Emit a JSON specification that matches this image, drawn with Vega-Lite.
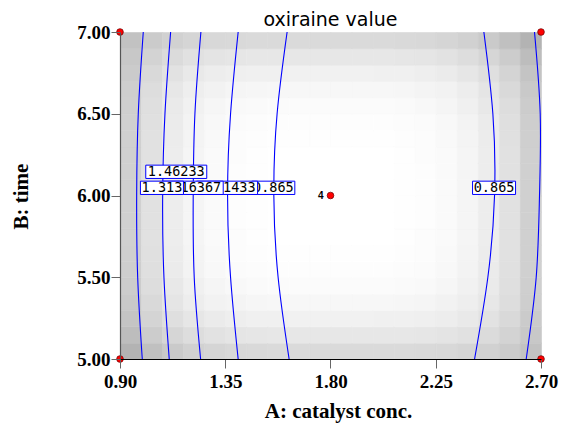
{
"$schema": "https://vega.github.io/schema/vega-lite/v6.json",
"width": 421, "height": 327,
"autosize": {"type": "none"},
"padding": {"left": 120, "top": 32, "right": 21, "bottom": 66},
"background": "white",
"title": {"text": "oxiraine value", "font": "DejaVu Sans", "fontSize": 19, "fontWeight": "normal", "color": "#000", "offset": -7},
"config": {"view": {"stroke": null}},
"datasets": {
"heat": [
{"x":0.9,"y":5,"s":76},{"x":0.9,"y":5.1,"s":66},{"x":0.9,"y":5.2,"s":59},{"x":0.9,"y":5.3,"s":54},{"x":0.9,"y":5.4,"s":51},{"x":0.9,"y":5.5,"s":49},{"x":0.9,"y":5.6,"s":48},{"x":0.9,"y":5.7,"s":47},{"x":0.9,"y":5.8,"s":47},{"x":0.9,"y":5.9,"s":47},{"x":0.9,"y":6,"s":47},{"x":0.9,"y":6.1,"s":47},{"x":0.9,"y":6.2,"s":47},{"x":0.9,"y":6.3,"s":47},{"x":0.9,"y":6.4,"s":47},{"x":0.9,"y":6.5,"s":48},{"x":0.9,"y":6.6,"s":49},{"x":0.9,"y":6.7,"s":52},{"x":0.9,"y":6.8,"s":55},{"x":0.9,"y":6.9,"s":61},
{"x":0.99,"y":5,"s":63},{"x":0.99,"y":5.1,"s":51},{"x":0.99,"y":5.2,"s":43},{"x":0.99,"y":5.3,"s":38},{"x":0.99,"y":5.4,"s":34},{"x":0.99,"y":5.5,"s":32},{"x":0.99,"y":5.6,"s":31},{"x":0.99,"y":5.7,"s":30},{"x":0.99,"y":5.8,"s":30},{"x":0.99,"y":5.9,"s":30},{"x":0.99,"y":6,"s":30},{"x":0.99,"y":6.1,"s":30},{"x":0.99,"y":6.2,"s":30},{"x":0.99,"y":6.3,"s":30},{"x":0.99,"y":6.4,"s":31},{"x":0.99,"y":6.5,"s":32},{"x":0.99,"y":6.6,"s":34},{"x":0.99,"y":6.7,"s":38},{"x":0.99,"y":6.8,"s":44},{"x":0.99,"y":6.9,"s":52},
{"x":1.08,"y":5,"s":53},{"x":1.08,"y":5.1,"s":41},{"x":1.08,"y":5.2,"s":32},{"x":1.08,"y":5.3,"s":26},{"x":1.08,"y":5.4,"s":23},{"x":1.08,"y":5.5,"s":20},{"x":1.08,"y":5.6,"s":19},{"x":1.08,"y":5.7,"s":18},{"x":1.08,"y":5.8,"s":18},{"x":1.08,"y":5.9,"s":18},{"x":1.08,"y":6,"s":18},{"x":1.08,"y":6.1,"s":18},{"x":1.08,"y":6.2,"s":18},{"x":1.08,"y":6.3,"s":19},{"x":1.08,"y":6.4,"s":20},{"x":1.08,"y":6.5,"s":21},{"x":1.08,"y":6.6,"s":24},{"x":1.08,"y":6.7,"s":29},{"x":1.08,"y":6.8,"s":36},{"x":1.08,"y":6.9,"s":46},
{"x":1.17,"y":5,"s":46},{"x":1.17,"y":5.1,"s":34},{"x":1.17,"y":5.2,"s":25},{"x":1.17,"y":5.3,"s":18},{"x":1.17,"y":5.4,"s":15},{"x":1.17,"y":5.5,"s":12},{"x":1.17,"y":5.6,"s":11},{"x":1.17,"y":5.7,"s":10},{"x":1.17,"y":5.8,"s":10},{"x":1.17,"y":5.9,"s":10},{"x":1.17,"y":6,"s":10},{"x":1.17,"y":6.1,"s":10},{"x":1.17,"y":6.2,"s":10},{"x":1.17,"y":6.3,"s":11},{"x":1.17,"y":6.4,"s":12},{"x":1.17,"y":6.5,"s":14},{"x":1.17,"y":6.6,"s":17},{"x":1.17,"y":6.7,"s":22},{"x":1.17,"y":6.8,"s":30},{"x":1.17,"y":6.9,"s":42},
{"x":1.26,"y":5,"s":42},{"x":1.26,"y":5.1,"s":29},{"x":1.26,"y":5.2,"s":20},{"x":1.26,"y":5.3,"s":13},{"x":1.26,"y":5.4,"s":10},{"x":1.26,"y":5.5,"s":7},{"x":1.26,"y":5.6,"s":6},{"x":1.26,"y":5.7,"s":5},{"x":1.26,"y":5.8,"s":5},{"x":1.26,"y":5.9,"s":5},{"x":1.26,"y":6,"s":5},{"x":1.26,"y":6.1,"s":5},{"x":1.26,"y":6.2,"s":5},{"x":1.26,"y":6.3,"s":6},{"x":1.26,"y":6.4,"s":7},{"x":1.26,"y":6.5,"s":9},{"x":1.26,"y":6.6,"s":13},{"x":1.26,"y":6.7,"s":18},{"x":1.26,"y":6.8,"s":27},{"x":1.26,"y":6.9,"s":39},
{"x":1.35,"y":5,"s":39},{"x":1.35,"y":5.1,"s":26},{"x":1.35,"y":5.2,"s":17},{"x":1.35,"y":5.3,"s":11},{"x":1.35,"y":5.4,"s":7},{"x":1.35,"y":5.5,"s":4},{"x":1.35,"y":5.6,"s":3},{"x":1.35,"y":5.7,"s":3},{"x":1.35,"y":5.8,"s":2},{"x":1.35,"y":5.9,"s":2},{"x":1.35,"y":6,"s":2},{"x":1.35,"y":6.1,"s":2},{"x":1.35,"y":6.2,"s":3},{"x":1.35,"y":6.3,"s":3},{"x":1.35,"y":6.4,"s":4},{"x":1.35,"y":6.5,"s":6},{"x":1.35,"y":6.6,"s":10},{"x":1.35,"y":6.7,"s":16},{"x":1.35,"y":6.8,"s":25},{"x":1.35,"y":6.9,"s":38},
{"x":1.44,"y":5,"s":38},{"x":1.44,"y":5.1,"s":25},{"x":1.44,"y":5.2,"s":15},{"x":1.44,"y":5.3,"s":9},{"x":1.44,"y":5.4,"s":5},{"x":1.44,"y":5.5,"s":3},{"x":1.44,"y":5.6,"s":2},{"x":1.44,"y":5.7,"s":1},{"x":1.44,"y":5.8,"s":1},{"x":1.44,"y":5.9,"s":1},{"x":1.44,"y":6,"s":1},{"x":1.44,"y":6.1,"s":1},{"x":1.44,"y":6.2,"s":1},{"x":1.44,"y":6.3,"s":2},{"x":1.44,"y":6.4,"s":3},{"x":1.44,"y":6.5,"s":5},{"x":1.44,"y":6.6,"s":9},{"x":1.44,"y":6.7,"s":15},{"x":1.44,"y":6.8,"s":24},{"x":1.44,"y":6.9,"s":37},
{"x":1.53,"y":5,"s":37},{"x":1.53,"y":5.1,"s":24},{"x":1.53,"y":5.2,"s":15},{"x":1.53,"y":5.3,"s":8},{"x":1.53,"y":5.4,"s":4},{"x":1.53,"y":5.5,"s":2},{"x":1.53,"y":5.6,"s":1},{"x":1.53,"y":5.7,"s":0},{"x":1.53,"y":5.8,"s":0},{"x":1.53,"y":5.9,"s":0},{"x":1.53,"y":6,"s":0},{"x":1.53,"y":6.1,"s":0},{"x":1.53,"y":6.2,"s":0},{"x":1.53,"y":6.3,"s":1},{"x":1.53,"y":6.4,"s":2},{"x":1.53,"y":6.5,"s":4},{"x":1.53,"y":6.6,"s":8},{"x":1.53,"y":6.7,"s":15},{"x":1.53,"y":6.8,"s":24},{"x":1.53,"y":6.9,"s":37},
{"x":1.62,"y":5,"s":37},{"x":1.62,"y":5.1,"s":24},{"x":1.62,"y":5.2,"s":14},{"x":1.62,"y":5.3,"s":8},{"x":1.62,"y":5.4,"s":4},{"x":1.62,"y":5.5,"s":2},{"x":1.62,"y":5.6,"s":1},{"x":1.62,"y":5.7,"s":0},{"x":1.62,"y":5.8,"s":0},{"x":1.62,"y":5.9,"s":0},{"x":1.62,"y":6,"s":0},{"x":1.62,"y":6.1,"s":0},{"x":1.62,"y":6.2,"s":0},{"x":1.62,"y":6.3,"s":1},{"x":1.62,"y":6.4,"s":2},{"x":1.62,"y":6.5,"s":4},{"x":1.62,"y":6.6,"s":8},{"x":1.62,"y":6.7,"s":14},{"x":1.62,"y":6.8,"s":24},{"x":1.62,"y":6.9,"s":37},
{"x":1.71,"y":5,"s":37},{"x":1.71,"y":5.1,"s":24},{"x":1.71,"y":5.2,"s":14},{"x":1.71,"y":5.3,"s":8},{"x":1.71,"y":5.4,"s":4},{"x":1.71,"y":5.5,"s":2},{"x":1.71,"y":5.6,"s":1},{"x":1.71,"y":5.7,"s":0},{"x":1.71,"y":5.8,"s":0},{"x":1.71,"y":5.9,"s":0},{"x":1.71,"y":6,"s":0},{"x":1.71,"y":6.1,"s":0},{"x":1.71,"y":6.2,"s":0},{"x":1.71,"y":6.3,"s":1},{"x":1.71,"y":6.4,"s":2},{"x":1.71,"y":6.5,"s":4},{"x":1.71,"y":6.6,"s":8},{"x":1.71,"y":6.7,"s":14},{"x":1.71,"y":6.8,"s":24},{"x":1.71,"y":6.9,"s":37},
{"x":1.8,"y":5,"s":37},{"x":1.8,"y":5.1,"s":24},{"x":1.8,"y":5.2,"s":14},{"x":1.8,"y":5.3,"s":8},{"x":1.8,"y":5.4,"s":4},{"x":1.8,"y":5.5,"s":2},{"x":1.8,"y":5.6,"s":1},{"x":1.8,"y":5.7,"s":0},{"x":1.8,"y":5.8,"s":0},{"x":1.8,"y":5.9,"s":0},{"x":1.8,"y":6,"s":0},{"x":1.8,"y":6.1,"s":0},{"x":1.8,"y":6.2,"s":0},{"x":1.8,"y":6.3,"s":1},{"x":1.8,"y":6.4,"s":2},{"x":1.8,"y":6.5,"s":4},{"x":1.8,"y":6.6,"s":8},{"x":1.8,"y":6.7,"s":14},{"x":1.8,"y":6.8,"s":24},{"x":1.8,"y":6.9,"s":37},
{"x":1.89,"y":5,"s":37},{"x":1.89,"y":5.1,"s":24},{"x":1.89,"y":5.2,"s":14},{"x":1.89,"y":5.3,"s":8},{"x":1.89,"y":5.4,"s":4},{"x":1.89,"y":5.5,"s":2},{"x":1.89,"y":5.6,"s":1},{"x":1.89,"y":5.7,"s":0},{"x":1.89,"y":5.8,"s":0},{"x":1.89,"y":5.9,"s":0},{"x":1.89,"y":6,"s":0},{"x":1.89,"y":6.1,"s":0},{"x":1.89,"y":6.2,"s":0},{"x":1.89,"y":6.3,"s":1},{"x":1.89,"y":6.4,"s":2},{"x":1.89,"y":6.5,"s":4},{"x":1.89,"y":6.6,"s":8},{"x":1.89,"y":6.7,"s":14},{"x":1.89,"y":6.8,"s":24},{"x":1.89,"y":6.9,"s":37},
{"x":1.98,"y":5,"s":37},{"x":1.98,"y":5.1,"s":24},{"x":1.98,"y":5.2,"s":15},{"x":1.98,"y":5.3,"s":8},{"x":1.98,"y":5.4,"s":4},{"x":1.98,"y":5.5,"s":2},{"x":1.98,"y":5.6,"s":1},{"x":1.98,"y":5.7,"s":0},{"x":1.98,"y":5.8,"s":0},{"x":1.98,"y":5.9,"s":0},{"x":1.98,"y":6,"s":0},{"x":1.98,"y":6.1,"s":0},{"x":1.98,"y":6.2,"s":0},{"x":1.98,"y":6.3,"s":1},{"x":1.98,"y":6.4,"s":2},{"x":1.98,"y":6.5,"s":4},{"x":1.98,"y":6.6,"s":8},{"x":1.98,"y":6.7,"s":15},{"x":1.98,"y":6.8,"s":24},{"x":1.98,"y":6.9,"s":37},
{"x":2.07,"y":5,"s":37},{"x":2.07,"y":5.1,"s":24},{"x":2.07,"y":5.2,"s":15},{"x":2.07,"y":5.3,"s":9},{"x":2.07,"y":5.4,"s":5},{"x":2.07,"y":5.5,"s":3},{"x":2.07,"y":5.6,"s":2},{"x":2.07,"y":5.7,"s":1},{"x":2.07,"y":5.8,"s":1},{"x":2.07,"y":5.9,"s":1},{"x":2.07,"y":6,"s":1},{"x":2.07,"y":6.1,"s":1},{"x":2.07,"y":6.2,"s":1},{"x":2.07,"y":6.3,"s":2},{"x":2.07,"y":6.4,"s":3},{"x":2.07,"y":6.5,"s":5},{"x":2.07,"y":6.6,"s":9},{"x":2.07,"y":6.7,"s":15},{"x":2.07,"y":6.8,"s":25},{"x":2.07,"y":6.9,"s":38},
{"x":2.16,"y":5,"s":38},{"x":2.16,"y":5.1,"s":25},{"x":2.16,"y":5.2,"s":16},{"x":2.16,"y":5.3,"s":10},{"x":2.16,"y":5.4,"s":6},{"x":2.16,"y":5.5,"s":4},{"x":2.16,"y":5.6,"s":3},{"x":2.16,"y":5.7,"s":3},{"x":2.16,"y":5.8,"s":2},{"x":2.16,"y":5.9,"s":2},{"x":2.16,"y":6,"s":2},{"x":2.16,"y":6.1,"s":2},{"x":2.16,"y":6.2,"s":3},{"x":2.16,"y":6.3,"s":3},{"x":2.16,"y":6.4,"s":4},{"x":2.16,"y":6.5,"s":7},{"x":2.16,"y":6.6,"s":11},{"x":2.16,"y":6.7,"s":17},{"x":2.16,"y":6.8,"s":26},{"x":2.16,"y":6.9,"s":39},
{"x":2.25,"y":5,"s":39},{"x":2.25,"y":5.1,"s":27},{"x":2.25,"y":5.2,"s":18},{"x":2.25,"y":5.3,"s":13},{"x":2.25,"y":5.4,"s":9},{"x":2.25,"y":5.5,"s":7},{"x":2.25,"y":5.6,"s":6},{"x":2.25,"y":5.7,"s":5},{"x":2.25,"y":5.8,"s":5},{"x":2.25,"y":5.9,"s":5},{"x":2.25,"y":6,"s":5},{"x":2.25,"y":6.1,"s":5},{"x":2.25,"y":6.2,"s":5},{"x":2.25,"y":6.3,"s":6},{"x":2.25,"y":6.4,"s":7},{"x":2.25,"y":6.5,"s":10},{"x":2.25,"y":6.6,"s":13},{"x":2.25,"y":6.7,"s":20},{"x":2.25,"y":6.8,"s":29},{"x":2.25,"y":6.9,"s":42},
{"x":2.34,"y":5,"s":42},{"x":2.34,"y":5.1,"s":30},{"x":2.34,"y":5.2,"s":22},{"x":2.34,"y":5.3,"s":17},{"x":2.34,"y":5.4,"s":14},{"x":2.34,"y":5.5,"s":12},{"x":2.34,"y":5.6,"s":11},{"x":2.34,"y":5.7,"s":10},{"x":2.34,"y":5.8,"s":10},{"x":2.34,"y":5.9,"s":10},{"x":2.34,"y":6,"s":10},{"x":2.34,"y":6.1,"s":10},{"x":2.34,"y":6.2,"s":10},{"x":2.34,"y":6.3,"s":11},{"x":2.34,"y":6.4,"s":12},{"x":2.34,"y":6.5,"s":15},{"x":2.34,"y":6.6,"s":18},{"x":2.34,"y":6.7,"s":25},{"x":2.34,"y":6.8,"s":34},{"x":2.34,"y":6.9,"s":46},
{"x":2.43,"y":5,"s":46},{"x":2.43,"y":5.1,"s":36},{"x":2.43,"y":5.2,"s":29},{"x":2.43,"y":5.3,"s":24},{"x":2.43,"y":5.4,"s":21},{"x":2.43,"y":5.5,"s":20},{"x":2.43,"y":5.6,"s":19},{"x":2.43,"y":5.7,"s":18},{"x":2.43,"y":5.8,"s":18},{"x":2.43,"y":5.9,"s":18},{"x":2.43,"y":6,"s":18},{"x":2.43,"y":6.1,"s":18},{"x":2.43,"y":6.2,"s":18},{"x":2.43,"y":6.3,"s":19},{"x":2.43,"y":6.4,"s":20},{"x":2.43,"y":6.5,"s":23},{"x":2.43,"y":6.6,"s":26},{"x":2.43,"y":6.7,"s":32},{"x":2.43,"y":6.8,"s":41},{"x":2.43,"y":6.9,"s":53},
{"x":2.52,"y":5,"s":52},{"x":2.52,"y":5.1,"s":44},{"x":2.52,"y":5.2,"s":38},{"x":2.52,"y":5.3,"s":34},{"x":2.52,"y":5.4,"s":32},{"x":2.52,"y":5.5,"s":31},{"x":2.52,"y":5.6,"s":30},{"x":2.52,"y":5.7,"s":30},{"x":2.52,"y":5.8,"s":30},{"x":2.52,"y":5.9,"s":30},{"x":2.52,"y":6,"s":30},{"x":2.52,"y":6.1,"s":30},{"x":2.52,"y":6.2,"s":30},{"x":2.52,"y":6.3,"s":31},{"x":2.52,"y":6.4,"s":32},{"x":2.52,"y":6.5,"s":34},{"x":2.52,"y":6.6,"s":38},{"x":2.52,"y":6.7,"s":43},{"x":2.52,"y":6.8,"s":51},{"x":2.52,"y":6.9,"s":63},
{"x":2.61,"y":5,"s":61},{"x":2.61,"y":5.1,"s":55},{"x":2.61,"y":5.2,"s":52},{"x":2.61,"y":5.3,"s":49},{"x":2.61,"y":5.4,"s":48},{"x":2.61,"y":5.5,"s":47},{"x":2.61,"y":5.6,"s":47},{"x":2.61,"y":5.7,"s":47},{"x":2.61,"y":5.8,"s":47},{"x":2.61,"y":5.9,"s":47},{"x":2.61,"y":6,"s":47},{"x":2.61,"y":6.1,"s":47},{"x":2.61,"y":6.2,"s":47},{"x":2.61,"y":6.3,"s":48},{"x":2.61,"y":6.4,"s":49},{"x":2.61,"y":6.5,"s":51},{"x":2.61,"y":6.6,"s":54},{"x":2.61,"y":6.7,"s":59},{"x":2.61,"y":6.8,"s":66},{"x":2.61,"y":6.9,"s":76}
],
"lines": [
{"c":1,"lev":1.46233,"x":0.9995,"y":7},{"c":1,"lev":1.46233,"x":0.9781,"y":6.5},{"c":1,"lev":1.46233,"x":0.9713,"y":6},{"c":1,"lev":1.46233,"x":0.9756,"y":5.5},{"c":1,"lev":1.46233,"x":0.9952,"y":5},
{"c":2,"lev":1.313,"x":1.1165,"y":7},{"c":2,"lev":1.313,"x":1.0922,"y":6.5},{"c":2,"lev":1.313,"x":1.0824,"y":6},{"c":2,"lev":1.313,"x":1.0879,"y":5.5},{"c":2,"lev":1.313,"x":1.1105,"y":5},
{"c":3,"lev":1.16367,"x":1.2459,"y":7},{"c":3,"lev":1.16367,"x":1.2203,"y":6.5},{"c":3,"lev":1.16367,"x":1.213,"y":6},{"c":3,"lev":1.16367,"x":1.2173,"y":5.5},{"c":3,"lev":1.16367,"x":1.2446,"y":5},
{"c":4,"lev":1.01433,"x":1.4052,"y":7},{"c":4,"lev":1.01433,"x":1.3727,"y":6.5},{"c":4,"lev":1.01433,"x":1.3599,"y":6},{"c":4,"lev":1.01433,"x":1.3727,"y":5.5},{"c":4,"lev":1.01433,"x":1.4052,"y":5},
{"c":5,"lev":0.865,"x":1.6145,"y":7},{"c":5,"lev":0.865,"x":1.5717,"y":6.5},{"c":5,"lev":0.865,"x":1.5577,"y":6},{"c":5,"lev":0.865,"x":1.576,"y":5.5},{"c":5,"lev":0.865,"x":1.623,"y":5},
{"c":6,"lev":0.865,"x":2.4557,"y":7},{"c":6,"lev":0.865,"x":2.4942,"y":6.5},{"c":6,"lev":0.865,"x":2.5014,"y":6},{"c":6,"lev":0.865,"x":2.4728,"y":5.5},{"c":6,"lev":0.865,"x":2.416,"y":5},
{"c":7,"lev":1.01433,"x":2.6722,"y":7},{"c":7,"lev":1.01433,"x":2.6966,"y":6.5},{"c":7,"lev":1.01433,"x":2.6936,"y":6},{"c":7,"lev":1.01433,"x":2.6795,"y":5.5},{"c":7,"lev":1.01433,"x":2.6368,"y":5}
],
"labels": [
{"k":1,"lab":"0.865","w":"s","x":1.5555,"y":6.047},
{"k":2,"lab":"1.01433","w":"l","x":1.3578,"y":6.047},
{"k":3,"lab":"1.16367","w":"l","x":1.2109,"y":6.047},
{"k":4,"lab":"1.313","w":"s","x":1.0793,"y":6.047},
{"k":5,"lab":"1.46233","w":"l","x":1.1405,"y":6.145},
{"k":6,"lab":"0.865","w":"s","x":2.4993,"y":6.047}
],
"pts": [
{"x":0.9,"y":5,"n":""},{"x":0.9,"y":7,"n":""},{"x":2.7,"y":5,"n":""},{"x":2.7,"y":7,"n":""},{"x":1.8,"y":6,"n":"4"}
]
},
"layer": [
{"data": {"name": "heat"},
 "mark": {"type": "rect", "strokeWidth": 0.6},
 "encoding": {
  "x": {"field": "x", "type": "quantitative", "bin": {"binned": true, "step": 0.09}, "scale": {"domain": [0.9, 2.7], "nice": false, "zero": false},
        "axis": {"title": "A: catalyst conc.", "values": [0.9, 1.35, 1.8, 2.25, 2.7], "format": ".2f", "grid": false, "zindex": 1,
                 "labelFont": "Liberation Serif", "labelFontWeight": "bold", "labelFontSize": 19, "labelColor": "#000", "labelPadding": 4, "labelFlush": false, "labelOverlap": false,
                 "tickSize": 9, "tickColor": "#666", "domainColor": "#000", "domainWidth": 1,
                 "titleFont": "Liberation Serif", "titleFontWeight": "bold", "titleFontSize": 21, "titleColor": "#000", "titleX": 218, "titleY": 52, "titleBaseline": "middle", "titleAlign": "center"}},
  "y": {"field": "y", "type": "quantitative", "bin": {"binned": true, "step": 0.1}, "scale": {"domain": [5, 7], "nice": false, "zero": false},
        "axis": {"title": "B: time", "values": [5, 5.5, 6, 6.5, 7], "format": ".2f", "grid": false, "zindex": 1,
                 "labelFont": "Liberation Serif", "labelFontWeight": "bold", "labelFontSize": 19, "labelColor": "#000", "labelPadding": 1, "labelFlush": false, "labelOverlap": false,
                 "tickSize": 9, "tickColor": "#666", "domainColor": "#555", "domainWidth": 1.2,
                 "titleFont": "Liberation Serif", "titleFontWeight": "bold", "titleFontSize": 21, "titleColor": "#000", "titleX": -99, "titleY": 164, "titleBaseline": "middle", "titleAlign": "center", "titleAngle": -90}},
  "color": {"field": "s", "type": "quantitative", "scale": {"domain": [0, 100], "range": ["#ffffff", "#9b9b9b"], "interpolate": "rgb"}, "legend": null},
  "stroke": {"field": "s", "type": "quantitative", "scale": {"domain": [0, 100], "range": ["#ffffff", "#9b9b9b"], "interpolate": "rgb"}, "legend": null}
 }},
{"mark": {"type": "rule", "color": "#777", "strokeWidth": 1}, "encoding": {"y": {"datum": 7, "type": "quantitative"}}},
{"mark": {"type": "rule", "color": "#000", "strokeWidth": 1}, "encoding": {"x": {"datum": 2.7, "type": "quantitative"}}},
{"data": {"name": "lines"},
 "mark": {"type": "line", "color": "#0000ff", "strokeWidth": 1.1, "interpolate": "natural", "clip": true},
 "encoding": {
  "x": {"field": "x", "type": "quantitative"},
  "y": {"field": "y", "type": "quantitative"},
  "detail": {"field": "c", "type": "nominal"},
  "order": {"field": "y", "type": "quantitative"}
 }},
{"data": {"name": "labels"}, "transform": [{"filter": "datum.k == 1"}],
 "encoding": {"x": {"field": "x", "type": "quantitative"}, "y": {"field": "y", "type": "quantitative"}},
 "layer": [
  {"mark": {"type": "point", "filled": true, "fill": "#ffffff", "stroke": "#0000ff", "strokeWidth": 1, "size": 3721, "opacity": 1},
   "encoding": {"shape": {"field": "w", "type": "nominal", "scale": {"domain": ["s", "l"], "range": ["M-0.705,-0.218H0.705V0.218H-0.705Z", "M-1,-0.218H1V0.218H-1Z"]}, "legend": null}}},
  {"mark": {"type": "text", "font": "DejaVu Sans Mono", "fontSize": 13.5, "color": "#000"}, "encoding": {"text": {"field": "lab", "type": "nominal"}}}
 ]},
{"data": {"name": "labels"}, "transform": [{"filter": "datum.k == 2"}],
 "encoding": {"x": {"field": "x", "type": "quantitative"}, "y": {"field": "y", "type": "quantitative"}},
 "layer": [
  {"mark": {"type": "point", "filled": true, "fill": "#ffffff", "stroke": "#0000ff", "strokeWidth": 1, "size": 3721, "opacity": 1},
   "encoding": {"shape": {"field": "w", "type": "nominal", "scale": {"domain": ["s", "l"], "range": ["M-0.705,-0.218H0.705V0.218H-0.705Z", "M-1,-0.218H1V0.218H-1Z"]}, "legend": null}}},
  {"mark": {"type": "text", "font": "DejaVu Sans Mono", "fontSize": 13.5, "color": "#000"}, "encoding": {"text": {"field": "lab", "type": "nominal"}}}
 ]},
{"data": {"name": "labels"}, "transform": [{"filter": "datum.k == 3"}],
 "encoding": {"x": {"field": "x", "type": "quantitative"}, "y": {"field": "y", "type": "quantitative"}},
 "layer": [
  {"mark": {"type": "point", "filled": true, "fill": "#ffffff", "stroke": "#0000ff", "strokeWidth": 1, "size": 3721, "opacity": 1},
   "encoding": {"shape": {"field": "w", "type": "nominal", "scale": {"domain": ["s", "l"], "range": ["M-0.705,-0.218H0.705V0.218H-0.705Z", "M-1,-0.218H1V0.218H-1Z"]}, "legend": null}}},
  {"mark": {"type": "text", "font": "DejaVu Sans Mono", "fontSize": 13.5, "color": "#000"}, "encoding": {"text": {"field": "lab", "type": "nominal"}}}
 ]},
{"data": {"name": "labels"}, "transform": [{"filter": "datum.k == 4"}],
 "encoding": {"x": {"field": "x", "type": "quantitative"}, "y": {"field": "y", "type": "quantitative"}},
 "layer": [
  {"mark": {"type": "point", "filled": true, "fill": "#ffffff", "stroke": "#0000ff", "strokeWidth": 1, "size": 3721, "opacity": 1},
   "encoding": {"shape": {"field": "w", "type": "nominal", "scale": {"domain": ["s", "l"], "range": ["M-0.705,-0.218H0.705V0.218H-0.705Z", "M-1,-0.218H1V0.218H-1Z"]}, "legend": null}}},
  {"mark": {"type": "text", "font": "DejaVu Sans Mono", "fontSize": 13.5, "color": "#000"}, "encoding": {"text": {"field": "lab", "type": "nominal"}}}
 ]},
{"data": {"name": "labels"}, "transform": [{"filter": "datum.k == 5"}],
 "encoding": {"x": {"field": "x", "type": "quantitative"}, "y": {"field": "y", "type": "quantitative"}},
 "layer": [
  {"mark": {"type": "point", "filled": true, "fill": "#ffffff", "stroke": "#0000ff", "strokeWidth": 1, "size": 3721, "opacity": 1},
   "encoding": {"shape": {"field": "w", "type": "nominal", "scale": {"domain": ["s", "l"], "range": ["M-0.705,-0.218H0.705V0.218H-0.705Z", "M-1,-0.218H1V0.218H-1Z"]}, "legend": null}}},
  {"mark": {"type": "text", "font": "DejaVu Sans Mono", "fontSize": 13.5, "color": "#000"}, "encoding": {"text": {"field": "lab", "type": "nominal"}}}
 ]},
{"data": {"name": "labels"}, "transform": [{"filter": "datum.k == 6"}],
 "encoding": {"x": {"field": "x", "type": "quantitative"}, "y": {"field": "y", "type": "quantitative"}},
 "layer": [
  {"mark": {"type": "point", "filled": true, "fill": "#ffffff", "stroke": "#0000ff", "strokeWidth": 1, "size": 3721, "opacity": 1},
   "encoding": {"shape": {"field": "w", "type": "nominal", "scale": {"domain": ["s", "l"], "range": ["M-0.705,-0.218H0.705V0.218H-0.705Z", "M-1,-0.218H1V0.218H-1Z"]}, "legend": null}}},
  {"mark": {"type": "text", "font": "DejaVu Sans Mono", "fontSize": 13.5, "color": "#000"}, "encoding": {"text": {"field": "lab", "type": "nominal"}}}
 ]},
{"data": {"name": "pts"},
 "mark": {"type": "point", "shape": "circle", "filled": true, "fill": "#ff0000", "stroke": "#6a0000", "strokeWidth": 0.7, "size": 45, "opacity": 1},
 "encoding": {"x": {"field": "x", "type": "quantitative"}, "y": {"field": "y", "type": "quantitative"}}},
{"data": {"name": "pts"}, "transform": [{"filter": "datum.n != ''"}],
 "mark": {"type": "text", "font": "Liberation Sans", "fontWeight": "bold", "fontSize": 10, "align": "right", "dx": -7, "color": "#000"},
 "encoding": {"x": {"field": "x", "type": "quantitative"}, "y": {"field": "y", "type": "quantitative"}, "text": {"field": "n", "type": "nominal"}}}
]
}
